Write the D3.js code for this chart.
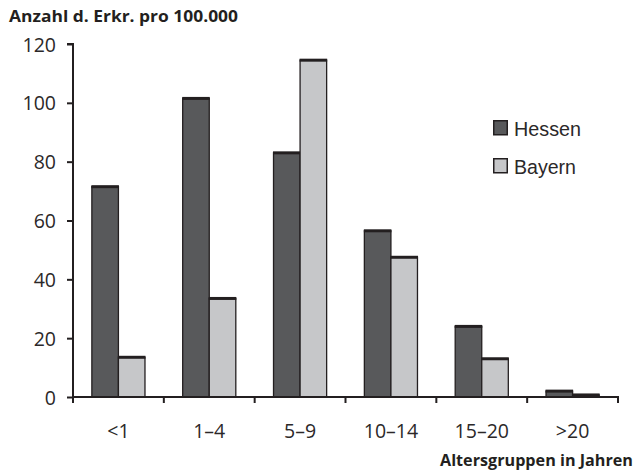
<!DOCTYPE html>
<html><head><meta charset="utf-8">
<script src="https://cdn.jsdelivr.net/npm/d3@7"></script>
<style>body{margin:0;background:#fff;} svg{display:block;}</style>
</head><body>
<svg id="chart" width="638" height="472"></svg>
<script>
const categories = ["<1", "1\u20134", "5\u20139", "10\u201314", "15\u201320", ">20"];
const seriesNames = ["Hessen", "Bayern"];
const hessen = [71.5, 101.5, 83, 56.5, 24, 2];
const bayern = [13.5, 33.5, 114.5, 47.5, 13, 0.7];
const yTicks = [0, 20, 40, 60, 80, 100, 120];
const colors = ["#58595b", "#c6c7c9"];
const stroke = "#231f20";

(function () {
const svg = d3.select("#chart");
const mLeft = 73, mRight = 618, mTop = 44, mBottom = 397;

const x = d3.scaleBand().domain(categories).range([mLeft, mRight]).paddingInner(0).paddingOuter(0);
const xs = d3.scaleBand().domain(seriesNames).range([0, x.bandwidth()]).paddingInner(0).paddingOuter(0.71);
const y = d3.scaleLinear().domain([0, 120]).range([mBottom, mTop]);

const font = "'Open Sans', 'DejaVu Sans', sans-serif";
const tickColor = "#2b2829";

// Title
svg.append("text").attr("x", 9).attr("y", 22).text("Anzahl d. Erkr. pro 100.000")
  .attr("font-family", font).attr("font-weight", "bold").attr("font-size", 16.5).attr("fill", stroke)
  .attr("textLength", 229).attr("lengthAdjust", "spacingAndGlyphs");

// Bars
const data = [hessen, bayern];
seriesNames.forEach((s, si) => {
  const g = svg.append("g");
  categories.forEach((c, ci) => {
    const v = data[si][ci];
    const x0 = x(c) + xs(s);
    g.append("rect").attr("x", x0).attr("y", y(v)).attr("width", xs.bandwidth()).attr("height", y(0) - y(v))
      .attr("fill", colors[si]).attr("stroke", stroke).attr("stroke-width", 1.3);
    g.append("line").attr("x1", x0 - 0.5).attr("x2", x0 + xs.bandwidth() + 0.5).attr("y1", y(v)).attr("y2", y(v))
      .attr("stroke", stroke).attr("stroke-width", 3);
  });
});

// Y axis
const yAxis = d3.axisLeft(y).tickValues(yTicks).tickSize(6).tickPadding(11);
const gy = svg.append("g").attr("transform", `translate(${mLeft},0)`).call(yAxis);
gy.select(".domain").attr("stroke", stroke).attr("stroke-width", 2).attr("d", `M-6,${mTop}H0V${mBottom}`);
gy.selectAll(".tick line").attr("stroke", stroke).attr("stroke-width", 2);
gy.selectAll(".tick text").attr("font-family", font).attr("font-size", 19.5).attr("fill", tickColor)
  .attr("dy", "0.36em");

// X axis
const xAxis = d3.axisBottom(x).tickSize(0).tickPadding(0);
const gx = svg.append("g").attr("transform", `translate(0,${mBottom})`).call(xAxis);
gx.select(".domain").attr("stroke", stroke).attr("stroke-width", 2).attr("d", `M${mLeft},0H${mRight}V6`);
gx.selectAll(".tick text").attr("font-family", font).attr("font-size", 19.5).attr("fill", tickColor)
  .attr("y", 41).attr("dy", 0);
gx.selectAll(".bt").data(categories).enter().append("line").attr("class", "bt")
  .attr("x1", d => x(d)).attr("x2", d => x(d)).attr("y1", 0).attr("y2", 6)
  .attr("stroke", stroke).attr("stroke-width", 2);

// X title
svg.append("text").attr("x", 633).attr("y", 466).attr("text-anchor", "end").text("Altersgruppen in Jahren")
  .attr("font-family", font).attr("font-weight", "bold").attr("font-size", 16.5).attr("fill", stroke)
  .attr("textLength", 193).attr("lengthAdjust", "spacingAndGlyphs");

// Legend
const leg = svg.append("g").attr("transform", "translate(493,120)");
const legLen = [67, 62];
seriesNames.forEach((s, i) => {
  const g = leg.append("g").attr("transform", `translate(0,${i * 38})`);
  g.append("rect").attr("x", 0.75).attr("y", 0.75).attr("width", 13.5).attr("height", 14).attr("fill", colors[i])
    .attr("stroke", stroke).attr("stroke-width", 1.5);
  g.append("text").attr("x", 21).attr("y", 15.5).text(s)
    .attr("font-family", "'Liberation Sans', Arial, sans-serif").attr("font-size", 20.5).attr("fill", tickColor)
    .attr("textLength", legLen[i]).attr("lengthAdjust", "spacingAndGlyphs");
});
})();
</script>
</body></html>
